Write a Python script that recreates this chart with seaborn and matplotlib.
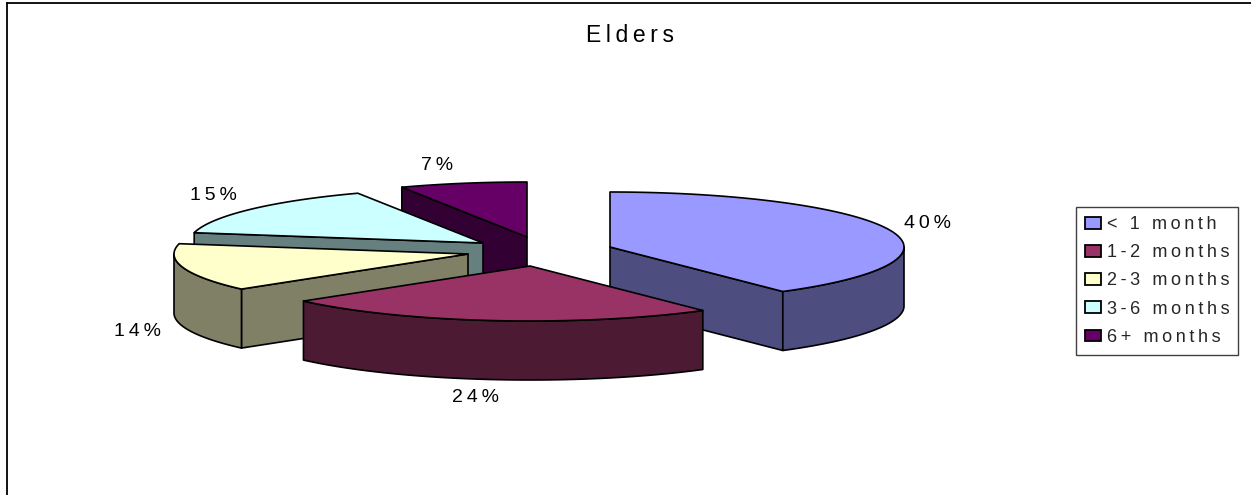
import numpy as np
import matplotlib
matplotlib.use("Agg")
import matplotlib.pyplot as plt
from matplotlib.patches import Polygon, Patch
import seaborn as sns

# ---- data
title = "Elders"
categories = ["< 1 month", "1-2 months", "2-3 months", "3-6 months", "6+ months"]
shares = [40, 24, 14, 15, 7]
top_colors = ["#9999FF", "#993366", "#FFFFCC", "#CCFFFF", "#660066"]

# ---- layout (figure pixels)
W, H = 1251, 495
RX, RY, DEPTH = 294, 55, 59
APEX = [(610, 247), (530, 266), (468, 254), (483, 243), (527, 237)]  # exploded centres
LABEL_XY = [(927, 224), (476, 398), (138, 331), (213, 195), (437, 166)]
DRAW_ORDER = [4, 3, 2, 0, 1]
EDGE = 1.2

sns.set_theme(style="white")
plt.rcParams["font.family"] = ["Liberation Sans", "DejaVu Sans"]
palette = sns.color_palette(top_colors)
side_colors = [tuple(c * 0.5 for c in col) for col in palette]


def spaced(s):
    """The reference sets its text with wide tracking."""
    return "\u2009".join(s)


fig = plt.figure(figsize=(W / 100, H / 100), dpi=100)
ax = fig.add_axes([7 / W, 0, 1 - 7 / W, 1 - 3 / H])
ax.set_xlim(7, W)
ax.set_ylim(H, 3)
ax.set_xticks([])
ax.set_yticks([])
for name, sp in ax.spines.items():
    sp.set_visible(name in ("top", "left"))
    sp.set_color("black")
    sp.set_linewidth(1.3)

edges = np.concatenate([[0], np.cumsum(shares)]) / np.sum(shares) * 2 * np.pi


def rim(c, a):
    return np.column_stack([c[0] + RX * np.sin(a), c[1] - RY * np.cos(a)])


def poly(pts, col, z):
    ax.add_patch(Polygon(pts, closed=True, facecolor=col, edgecolor="black",
                         linewidth=EDGE, joinstyle="round", zorder=z))


for rank, i in enumerate(DRAW_ORDER):
    c = np.array(APEX[i], float)
    a0, a1 = edges[i], edges[i + 1]
    z = 2 + rank
    down = np.array([0, DEPTH])
    # radial cut faces that look towards the viewer
    for ang, sign in ((a0, -1), (a1, 1)):
        normal_y = sign * np.sin(ang)
        if normal_y > 1e-6:
            p = rim(c, np.array([ang]))[0]
            poly([c, p, p + down, c + down], side_colors[i], z)
    # outer rim wall: only the part on the near side
    lo, hi = max(a0, np.pi / 2), min(a1, 3 * np.pi / 2)
    if hi > lo:
        arc = rim(c, np.linspace(lo, hi, 80))
        poly(np.vstack([arc, (arc + down)[::-1]]), side_colors[i], z)
    # top face
    arc = rim(c, np.linspace(a0, a1, 120))
    poly(np.vstack([c, arc]), palette[i], z)

for lab, xy in zip(shares, LABEL_XY):
    ax.text(xy[0], xy[1], spaced(f"{lab}%"), ha="center", va="center",
            fontsize=14, color="black", zorder=20)

ax.text(630, 35, spaced(title), ha="center", va="center", fontsize=16.5, color="black")

handles = [Patch(facecolor=c, edgecolor="black", linewidth=1.3) for c in palette]
leg = ax.legend(handles, [spaced(c) for c in categories],
                loc="upper left", bbox_to_anchor=(1076, 207),
                bbox_transform=ax.transData, frameon=True, fancybox=False,
                framealpha=1, edgecolor="#404040", fontsize=13,
                borderpad=0.5, labelspacing=0.62, borderaxespad=0,
                handlelength=0.9, handleheight=0.62, handletextpad=0.3)
leg.get_frame().set_linewidth(1.0)

fig.savefig("out.png", dpi=100, facecolor="white")
